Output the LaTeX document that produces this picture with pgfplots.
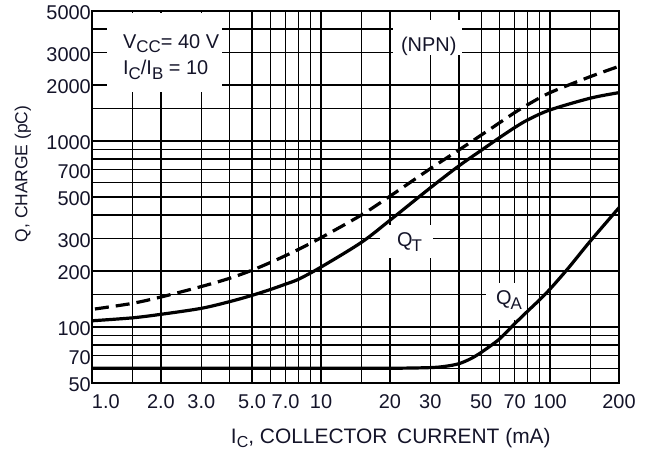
\documentclass[border=0pt]{standalone}
\usepackage{fontspec}
\setmainfont{Liberation Sans}
\usepackage{pgfplots}
\pgfplotsset{compat=1.18}
\definecolor{txt}{rgb}{0.08,0.08,0.16}
\newcommand{\sub}[2]{\raisebox{-0.4ex}{\fontsize{#2}{#2}\selectfont #1}}
\begin{document}
\begin{tikzpicture}
\useasboundingbox (-92bp,-69bp) rectangle (556bp,383bp);
\begin{axis}[
  xmode=log, ymode=log,
  scale only axis, width=527bp, height=372bp,
  xmin=1, xmax=200, ymin=50, ymax=5000,
  xtick={1,2,3,5,7,10,20,30,50,70,100,200},
  xticklabels={\makebox[0pt][l]{1.0},2.0,3.0,5.0,7.0,10,20,30,50,70,100,200},
  minor xtick={1.5,4,6,8,9,15,40,60,80,90,150},
  ytick={50,70,100,200,300,500,700,1000,2000,3000,5000},
  yticklabels={50,70,100,200,300,500,700,1000,2000,3000,5000},
  minor ytick={60,80,90,150,400,600,800,900,1500,4000},
  grid=both,
  major grid style={black, line width=1.2bp},
  minor grid style={black, line width=1.2bp},
  major tick length=0pt, minor tick length=0pt,
  axis line style={black, line width=2.6bp},
  /pgf/number format/assume math mode=true,
  tick label style={font=\fontsize{20}{20}\selectfont, text=txt},
  yticklabel style={inner sep=1bp, yshift=-2bp},
  xticklabel style={inner sep=0pt, yshift=-11bp},
  xlabel={I\sub{C}{16}, COLLECTOR\hspace{4bp} CURRENT (mA)},
  xlabel style={at={(axis description cs:0.567,-0.148)}, anchor=center, font=\fontsize{21}{21}\selectfont, text=txt},
  ylabel={Q, CHARGE (pC)},
  ylabel style={at={(axis description cs:-0.131,0.562)}, anchor=center, font=\fontsize{17.5}{17.5}\selectfont, text=txt},
]
% white label boxes
\fill[white] (rel axis cs:0.0285,0.782) rectangle (rel axis cs:0.247,0.995);
\fill[white] (rel axis cs:0.571,0.882) rectangle (rel axis cs:0.702,0.976);
\fill[white] (rel axis cs:0.546,0.336) rectangle (rel axis cs:0.647,0.425);
\fill[white] (rel axis cs:0.748,0.169) rectangle (rel axis cs:0.825,0.269);

% dashed curve
\addplot[black, line width=3.2bp, dash pattern=on 14bp off 7bp, smooth, tension=0.5] coordinates {
(1.03,125)(1.5,134)(2,145)(3,165)(4,183)(5,202)(6,222)(7,242)(8,262)(10,302)
(15,400)(20,505)(30,710)(40,895)(50,1075)(60,1250)(70,1420)(80,1570)(100,1820)(150,2220)(200,2520)};
% solid Q_T
\addplot[black, line width=3.2bp, smooth, tension=0.5] coordinates {
(1,108)(1.5,112)(2,117)(3,126)(4,137)(5,148)(6,159)(7,170)(8,181)(10,210)
(15,285)(20,375)(30,560)(40,735)(50,890)(60,1040)(70,1180)(80,1300)(100,1470)(150,1700)(200,1820)};
% solid Q_A
\addplot[black, line width=3.2bp, smooth, tension=0.5] coordinates {
(1,60)(10,60)(20,60)(30,60.5)(35,61.5)(40,63.5)(45,67.5)(50,73)(60,86)(70,104)(80,122)(90,140)(100,160)(120,207)(150,290)(200,438)};

\node[anchor=base west, inner sep=0pt, text=txt, font=\fontsize{20}{20}\selectfont] at (rel axis cs:0.0588,0.900) {V\sub{CC}{17}= 40 V};
\node[anchor=base west, inner sep=0pt, text=txt, font=\fontsize{20}{20}\selectfont] at (rel axis cs:0.0588,0.828) {I\sub{C}{17}/I\sub{B}{17} = 10};
\node[anchor=base, inner sep=0pt, text=txt, font=\fontsize{20}{20}\selectfont] at (rel axis cs:0.639,0.892) {(NPN)};
\node[anchor=base west, inner sep=0pt, text=txt, font=\fontsize{20}{20}\selectfont] at (rel axis cs:0.5787,0.366) {Q\kern-1bp\sub{T}{17}};
\node[anchor=base west, inner sep=0pt, text=txt, font=\fontsize{20}{20}\selectfont] at (rel axis cs:0.7666,0.21) {Q\kern-1bp\sub{A}{17}};
\end{axis}
\end{tikzpicture}
\end{document}
